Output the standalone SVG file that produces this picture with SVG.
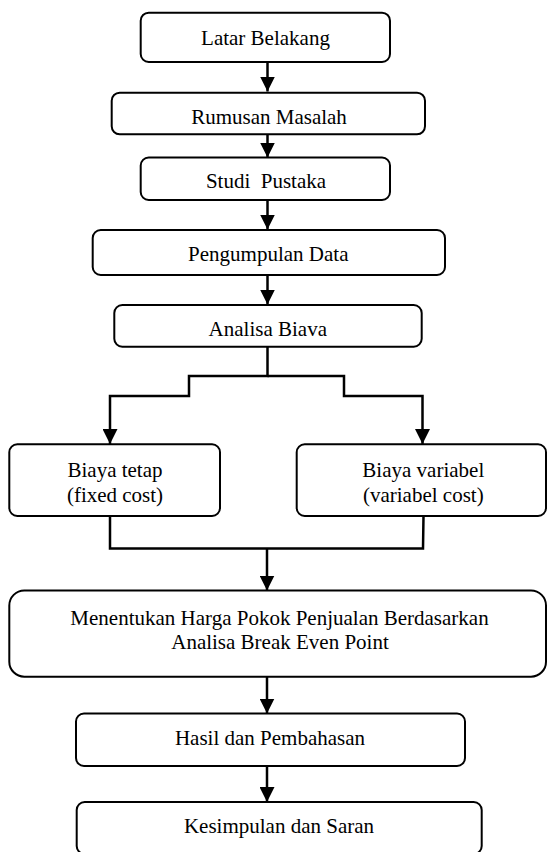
<svg xmlns="http://www.w3.org/2000/svg" width="547" height="852" viewBox="0 0 547 852">
<style>
.box{fill:#fff;stroke:#000;stroke-width:2}
.lbl{font-family:"Liberation Serif","Times New Roman",serif;font-size:21px;fill:#000;text-anchor:middle}
.con{fill:none;stroke:#000;stroke-width:2.5}
</style>
<defs>
<marker id="ah" viewBox="0 0 10 10" markerUnits="userSpaceOnUse" markerWidth="15" markerHeight="15" refX="10" refY="5" orient="auto">
<path d="M0,0 L10,5 L0,10 z" fill="#000"/>
</marker>
</defs>
<rect width="547" height="852" fill="#fff"/>
<g id="connectors">
<line class="con" x1="267.5" y1="62.7" x2="267.5" y2="91.5" marker-end="url(#ah)"/>
<line class="con" x1="267.5" y1="127" x2="267.5" y2="157.5" marker-end="url(#ah)"/>
<line class="con" x1="267.5" y1="200" x2="267.5" y2="229.5" marker-end="url(#ah)"/>
<line class="con" x1="267.5" y1="275" x2="267.5" y2="304.5" marker-end="url(#ah)"/>
<path class="con" d="M267.5,346.7 V376 H189 V396 H110 V444" marker-end="url(#ah)"/>
<path class="con" d="M267.5,376 H344 V396 H422.5 V444" marker-end="url(#ah)"/>
<path class="con" d="M110,516 V548.5 H423 L423.5,516"/>
<line class="con" x1="267" y1="548.5" x2="267" y2="590.5" marker-end="url(#ah)"/>
<line class="con" x1="267" y1="676.7" x2="267" y2="713.5" marker-end="url(#ah)"/>
<line class="con" x1="267" y1="766" x2="267" y2="802" marker-end="url(#ah)"/>
</g>
<g id="n1"><rect class="box" x="140.7" y="12.7" width="249.3" height="49.3" rx="8"/><text class="lbl" x="265.5" y="45">Latar Belakang</text></g>
<g id="n2"><rect class="box" x="111.7" y="92.7" width="313.3" height="41.6" rx="8"/><text class="lbl" x="269" y="124">Rumusan Masalah</text></g>
<g id="n3"><rect class="box" x="140.7" y="157.5" width="249.3" height="42.5" rx="8"/><text class="lbl" x="266" y="188.3" xml:space="preserve">Studi  Pustaka</text></g>
<g id="n4"><rect class="box" x="92.7" y="230" width="352.3" height="45" rx="8"/><text class="lbl" x="268.3" y="260.7">Pengumpulan Data</text></g>
<g id="n5"><rect class="box" x="114.3" y="305" width="307.4" height="41.7" rx="8"/><text class="lbl" x="267.8" y="335.7">Analisa Biava</text></g>
<g id="n6"><rect class="box" x="9.3" y="444.3" width="210.7" height="71.7" rx="8"/><text class="lbl" x="115" y="476.7">Biaya tetap</text><text class="lbl" x="115" y="501.7">(fixed cost)</text></g>
<g id="n7"><rect class="box" x="296.7" y="444.3" width="249.3" height="71.7" rx="8"/><text class="lbl" x="423.3" y="476.7">Biaya variabel</text><text class="lbl" x="423.3" y="501.7">(variabel cost)</text></g>
<g id="n8"><rect class="box" x="9.3" y="590.5" width="536.7" height="86.2" rx="15"/><text class="lbl" x="279.5" y="625">Menentukan Harga Pokok Penjualan Berdasarkan</text><text class="lbl" x="280" y="648.5">Analisa Break Even Point</text></g>
<g id="n9"><rect class="box" x="76" y="713.5" width="389" height="52.5" rx="8"/><text class="lbl" x="270" y="745">Hasil dan Pembahasan</text></g>
<g id="n10"><rect class="box" x="76.7" y="802" width="405" height="52" rx="8"/><text class="lbl" x="279" y="833.3">Kesimpulan dan Saran</text></g>
</svg>
